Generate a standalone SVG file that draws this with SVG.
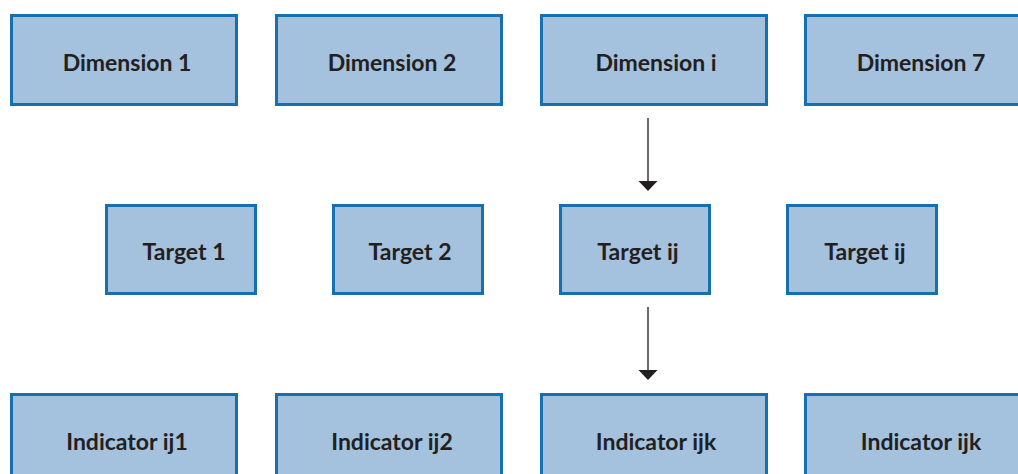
<svg xmlns="http://www.w3.org/2000/svg" width="1018" height="474" viewBox="0 0 1018 474">
<style>
.box{fill:#a4c1de;stroke:#1670ae;stroke-width:3}
.lbl{font-family:Lato,"Open Sans","Liberation Sans",sans-serif;font-weight:bold;font-size:23px;fill:#231f20;text-anchor:middle;dominant-baseline:central}
.con{stroke:#3a3a3a;stroke-width:1.5;fill:none}
.head{fill:#231f20}
</style>
<rect width="1018" height="474" fill="#ffffff"/>
<g id="dim1"><rect class="box" x="11.5" y="15.5" width="225" height="89"/><text class="lbl" x="127" y="62">Dimension 1</text></g>
<g id="dim2"><rect class="box" x="276.5" y="15.5" width="225" height="89"/><text class="lbl" x="392" y="62">Dimension 2</text></g>
<g id="dimi"><rect class="box" x="541.5" y="15.5" width="225" height="89"/><text class="lbl" x="656" y="62">Dimension i</text></g>
<g id="dim7"><rect class="box" x="805.5" y="15.5" width="225" height="89"/><text class="lbl" x="921" y="62">Dimension 7</text></g>
<g id="t1"><rect class="box" x="106.5" y="205.5" width="149" height="88"/><text class="lbl" x="184" y="251">Target 1</text></g>
<g id="t2"><rect class="box" x="333.5" y="205.5" width="149" height="88"/><text class="lbl" x="410" y="251">Target 2</text></g>
<g id="tij"><rect class="box" x="560.5" y="205.5" width="149" height="88"/><text class="lbl" x="638" y="251">Target ij</text></g>
<g id="tij2"><rect class="box" x="787.5" y="205.5" width="149" height="88"/><text class="lbl" x="865" y="251">Target ij</text></g>
<g id="i1"><rect class="box" x="11.5" y="394.5" width="225" height="89"/><text class="lbl" x="127" y="441">Indicator ij1</text></g>
<g id="i2"><rect class="box" x="276.5" y="394.5" width="225" height="89"/><text class="lbl" x="392" y="441">Indicator ij2</text></g>
<g id="ik"><rect class="box" x="541.5" y="394.5" width="225" height="89"/><text class="lbl" x="656" y="441">Indicator ijk</text></g>
<g id="ik2"><rect class="box" x="805.5" y="394.5" width="225" height="89"/><text class="lbl" x="921" y="441">Indicator ijk</text></g>
<g id="connectors">
<line class="con" x1="648" y1="118" x2="648" y2="183"/>
<path class="head" d="M638.5,181 L657.5,181 L648,191 Z"/>
<line class="con" x1="648" y1="307" x2="648" y2="372"/>
<path class="head" d="M638.5,370 L657.5,370 L648,380 Z"/>
</g>
</svg>
